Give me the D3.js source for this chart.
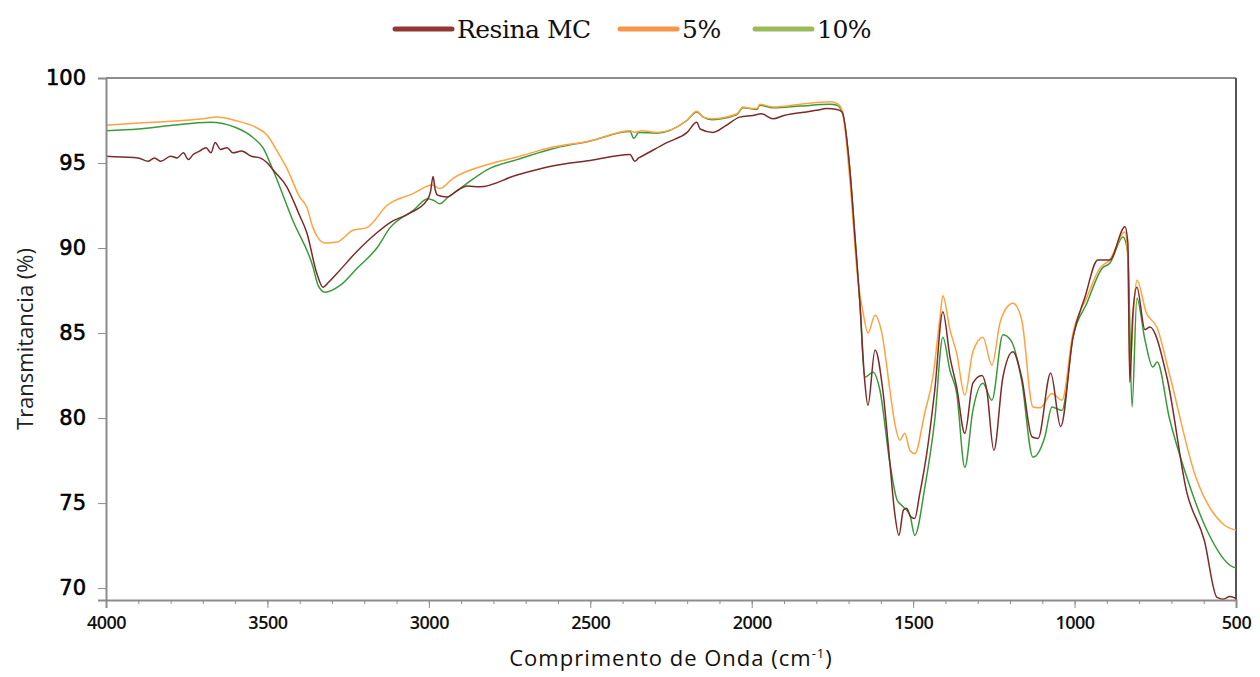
<!DOCTYPE html>
<html>
<head>
<meta charset="utf-8">
<script src="https://cdn.jsdelivr.net/npm/d3@7"></script>
<style>
  body { margin: 0; background: #fff; }
  svg { display: block; }
</style>
</head>
<body>
<svg id="ftir-chart" width="1260" height="677"></svg>
<script>
// [wavenumber cm-1, transmittance %]
var resinaMC = [
    [4000,95.4],[3950,95.35],[3900,95.3],[3870,95.1],[3850,95.3],[3830,95.1],[3800,95.4],[3780,95.3],
    [3760,95.6],[3745,95.2],[3730,95.5],[3710,95.7],[3690,95.9],[3675,95.6],[3662,96.2],[3645,95.8],
    [3625,95.9],[3607,95.6],[3580,95.7],[3550,95.4],[3523,95.3],[3500,95.0],[3483,94.6],[3440,93.6],
    [3400,91.9],[3378,90.9],[3347,88.5],[3328,87.7],[3310,88.0],[3285,88.5],[3223,89.8],[3161,90.9],
    [3120,91.5],[3059,92.05],[3006,92.8],[2995,93.3],[2987,94.2],[2980,93.4],[2972,93.1],[2944,93.0],
    [2910,93.4],[2882,93.65],[2842,93.6],[2727,94.3],[2625,94.8],[2500,95.15],[2377,95.5],[2362,95.1],
    [2350,95.3],[2340,95.4],[2263,96.2],[2200,96.8],[2170,97.4],[2160,97.0],[2120,96.8],[2080,97.2],
    [2037,97.7],[1996,97.8],[1970,97.9],[1934,97.6],[1900,97.8],[1872,97.9],[1830,98.0],[1800,98.1],
    [1767,98.2],[1736,98.15],[1720,98.0],[1696,94.6],[1680,90.6],[1665,86.8],[1650,82.2],[1640,80.75],
    [1618,84.0],[1594,81.65],[1572,77.35],[1557,74.4],[1544,73.1],[1530,74.6],[1520,74.7],[1508,74.2],
    [1495,74.1],[1480,75.5],[1458,77.9],[1433,81.65],[1408,86.25],[1386,83.6],[1365,81.8],[1340,79.1],
    [1315,82.05],[1287,82.5],[1272,81.65],[1250,78.1],[1222,82.4],[1191,83.9],[1164,82.4],[1132,78.9],
    [1113,78.8],[1074,82.65],[1043,79.5],[1005,84.75],[968,87.1],[928,89.3],[891,89.3],[844,91.25],
    [835,90.3],[829,82.1],[820,86.0],[807,87.7],[782,85.2],[767,85.35],[714,82.4],[652,75.6],
    [598,72.8],[559,69.45],[540,69.35],[519,69.5],[500,69.4]
];
var pct5 = [
    [4000,97.22],[3900,97.35],[3800,97.45],[3700,97.6],[3656,97.7],[3600,97.5],[3532,97.06],[3501,96.65],
    [3470,95.7],[3440,94.7],[3400,93.0],[3378,92.4],[3359,91.2],[3343,90.6],[3322,90.3],[3285,90.35],
    [3235,91.05],[3192,91.2],[3130,92.5],[3049,93.2],[2990,93.7],[2966,93.5],[2925,94.1],[2820,94.9],
    [2727,95.35],[2625,95.9],[2500,96.3],[2377,96.9],[2362,96.8],[2340,96.9],[2294,96.8],[2201,97.5],
    [2170,98.05],[2150,97.7],[2123,97.6],[2046,97.9],[2027,98.3],[2000,98.2],[1984,98.2],[1975,98.45],
    [1934,98.3],[1850,98.45],[1758,98.6],[1736,98.5],[1720,98.1],[1696,94.0],[1671,88.1],[1655,86.2],
    [1640,85.0],[1618,86.05],[1597,85.0],[1572,81.65],[1557,79.7],[1541,78.7],[1526,79.1],[1510,78.1],
    [1495,77.9],[1464,80.3],[1439,82.4],[1417,85.9],[1408,87.2],[1386,85.2],[1365,83.8],[1340,81.35],
    [1315,83.9],[1284,84.75],[1256,83.1],[1231,85.6],[1210,86.5],[1191,86.75],[1164,85.8],[1129,80.65],
    [1107,80.6],[1070,81.45],[1039,81.05],[1005,85.0],[962,87.1],[922,88.8],[891,89.3],[844,90.95],
    [835,89.3],[829,82.8],[815,87.0],[807,88.1],[778,86.2],[744,85.3],[707,82.65],[624,76.5],
    [542,73.8],[500,73.4]
];
var pct10 = [
    [4000,96.9],[3900,97.0],[3800,97.2],[3678,97.4],[3600,97.1],[3545,96.5],[3514,95.9],[3483,94.6],
    [3421,91.6],[3359,88.9],[3343,87.8],[3322,87.4],[3275,87.8],[3223,88.8],[3161,90.0],[3120,91.2],
    [3049,92.2],[3003,92.9],[2985,92.8],[2966,92.6],[2940,93.0],[2882,93.8],[2820,94.6],[2727,95.2],
    [2625,95.8],[2500,96.3],[2377,96.85],[2365,96.45],[2350,96.8],[2294,96.75],[2201,97.5],[2170,98.0],
    [2150,97.7],[2123,97.55],[2046,97.85],[2027,98.25],[1984,98.15],[1975,98.4],[1934,98.25],[1850,98.35],
    [1758,98.45],[1736,98.4],[1720,98.0],[1696,94.6],[1680,90.6],[1665,86.8],[1650,82.4],[1624,82.7],
    [1603,81.65],[1572,77.35],[1550,75.2],[1532,74.8],[1510,74.3],[1495,73.1],[1464,75.9],[1433,79.9],
    [1408,84.75],[1386,82.8],[1365,81.45],[1340,77.1],[1315,80.45],[1284,82.05],[1256,81.05],[1222,84.9],
    [1195,84.5],[1164,82.2],[1129,77.7],[1092,78.9],[1070,80.65],[1039,80.45],[1005,84.75],[962,86.75],
    [915,88.8],[891,89.1],[850,90.65],[835,89.7],[822,80.65],[807,87.05],[782,84.6],[758,83.0],
    [744,83.3],[707,80.05],[652,76.5],[590,73.4],[510,71.25],[500,71.2]
];

var seriesNames = ["Resina MC", "5%", "10%"];
var lineColors = ["#7d2a2a", "#ffa23f", "#3a9a3a"];
var legendColors = ["#943634", "#f79646", "#9bbb59"];
var xTicks = [4000, 3500, 3000, 2500, 2000, 1500, 1000, 500];
var yTicks = [70, 75, 80, 85, 90, 95, 100];

function ftirchart()
{
    const l_left = 106, l_right = 1236, l_top = 78, l_bottom = 600,
          l_svg = d3.select( "#ftir-chart" ),
          l_x = d3.scaleLinear().domain( [4000, 500] ).range( [l_left, l_right] ),
          l_y = d3.scaleLinear().domain( [69.3, 100] ).range( [l_bottom, l_top] ),
          l_series = [resinaMC, pct5, pct10];

    // frame: grey top line, dark right line
    l_svg.append( "line" )
        .attr( "x1", l_left ).attr( "x2", l_right )
        .attr( "y1", l_top ).attr( "y2", l_top )
        .style( "stroke", "#8c8c8c" ).style( "stroke-width", 2 );
    l_svg.append( "line" )
        .attr( "x1", l_right ).attr( "x2", l_right )
        .attr( "y1", l_top ).attr( "y2", l_bottom )
        .style( "stroke", "#555" ).style( "stroke-width", 2 );

    l_svg.append( "clipPath" ).attr( "id", "plotclip" )
        .append( "rect" )
        .attr( "x", l_left ).attr( "y", l_top )
        .attr( "width", l_right - l_left ).attr( "height", l_bottom - l_top );

    var l_line = d3.line()
        .x( function( d ) { return l_x( d[0] ); } )
        .y( function( d ) { return l_y( d[1] ); } )
        .curve( d3.curveMonotoneX );

    // draw 10% first so the resin and 5% lines sit on top like the original
    [2, 1, 0].forEach( function( i ) {
        l_svg.append( "path" )
            .datum( l_series[i] )
            .attr( "clip-path", "url(#plotclip)" )
            .attr( "d", l_line )
            .style( "fill", "none" )
            .style( "stroke", lineColors[i] )
            .style( "stroke-width", 1.5 )
            .style( "stroke-linejoin", "round" );
    } );

    // y axis
    var l_yaxis = l_svg.append( "g" )
        .attr( "transform", "translate(" + l_left + ",0)" )
        .call( d3.axisLeft( l_y ).tickValues( yTicks ).tickSize( 8 ).tickPadding( 12 ) );

    // x axis, minor ticks every 100
    var l_xminor = l_svg.append( "g" )
        .attr( "transform", "translate(0," + l_bottom + ")" )
        .call( d3.axisBottom( l_x ).tickValues( d3.range( 500, 4001, 100 ) ).tickSize( 4 ).tickFormat( "" ) );
    l_xminor.select( ".domain" ).remove();
    var l_xaxis = l_svg.append( "g" )
        .attr( "transform", "translate(0," + l_bottom + ")" )
        .call( d3.axisBottom( l_x ).tickValues( xTicks ).tickSize( 8 ).tickPadding( 8 ).tickFormat( d3.format( "d" ) ) );

    l_svg.selectAll( ".domain" ).style( "stroke", "#8c8c8c" ).style( "stroke-width", 2 );
    l_svg.selectAll( ".tick line" ).style( "stroke", "#8c8c8c" );
    l_yaxis.selectAll( "text" )
        .style( "font", "21px 'DejaVu Sans', sans-serif" ).style( "fill", "#000" )
        .style( "stroke", "#000" ).style( "stroke-width", 0.6 );
    l_xaxis.selectAll( "text" )
        .style( "font", "600 18px 'Open Sans', sans-serif" ).style( "fill", "#111" )
        .style( "letter-spacing", "-0.5px" );

    // axis titles
    l_svg.append( "text" )
        .attr( "x", ( l_left + l_right ) / 2 ).attr( "y", 666 )
        .attr( "text-anchor", "middle" )
        .style( "font", "22px 'Open Sans', sans-serif" ).style( "fill", "#111" )
        .style( "letter-spacing", "1px" )
        .text( "Comprimento de Onda (cm" )
        .append( "tspan" ).attr( "dy", -8 ).style( "font-size", "13px" ).text( "-1" )
        .select( function() { return this.parentNode; } )
        .append( "tspan" ).attr( "dy", 8 ).text( ")" );
    l_svg.append( "text" )
        .attr( "transform", "translate(33," + ( l_top + l_bottom ) / 2 + ") rotate(-90)" )
        .attr( "text-anchor", "middle" )
        .style( "font", "22px 'Open Sans', sans-serif" ).style( "fill", "#222" )
        .text( "Transmitancia (%)" );

    // legend
    var l_legendX = [392, 617, 752];
    var l_legend = l_svg.selectAll( ".legend" )
            .data( seriesNames )
        .enter().append( "g" )
            .attr( "class", "legend" )
            .attr( "transform", function( d, i ) { return "translate(" + l_legendX[i] + ",29)"; } );
    l_legend.append( "line" )
        .attr( "x1", 3 ).attr( "x2", 60 )
        .style( "stroke", function( d, i ) { return legendColors[i]; } )
        .style( "stroke-width", 5 )
        .style( "stroke-linecap", "round" );
    l_legend.append( "text" )
        .attr( "x", 65 ).attr( "y", 9 )
        .style( "font", "25px 'DejaVu Serif', serif" ).style( "fill", "#111" )
        .style( "letter-spacing", "-0.5px" )
        .text( function( d ) { return d; } );
}

ftirchart();
</script>
</body>
</html>
